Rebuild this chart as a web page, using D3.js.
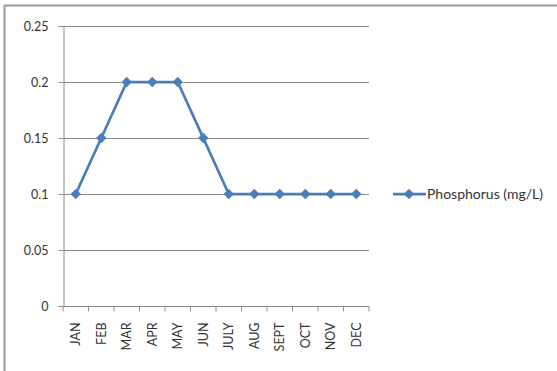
<!DOCTYPE html>
<html>
<head>
<meta charset="utf-8">
<script src="https://cdn.jsdelivr.net/npm/d3@7"></script>
<style>
  html, body { margin: 0; padding: 0; background: #fff; }
  svg { display: block; }
  text { font-family: Lato, "Liberation Sans", Arial, sans-serif; fill: #333; }
</style>
</head>
<body>
<svg id="chart" width="557" height="371"></svg>
<script>
// Monthly phosphorus concentration
const months = ["JAN", "FEB", "MAR", "APR", "MAY", "JUN", "JULY", "AUG", "SEPT", "OCT", "NOV", "DEC"];
const phosphorus = [0.1, 0.15, 0.2, 0.2, 0.2, 0.15, 0.1, 0.1, 0.1, 0.1, 0.1, 0.1];
const yTicks = [0, 0.05, 0.1, 0.15, 0.2, 0.25];
const yTickLabels = ["0", "0.05", "0.1", "0.15", "0.2", "0.25"];
const seriesName = "Phosphorus (mg/L)";

const svg = d3.select("#chart");
const lineColor = "#4a7ebb";
const axisColor = "#8c8c8c";
const fontSize = 12.5;

// Chart frame (top and left edges)
svg.append("path")
  .attr("d", "M4.5,371 V5.5 H557")
  .attr("fill", "none")
  .attr("stroke", "#9a9a9a")
  .attr("stroke-width", 2);

const plot = { left: 63, right: 369, top: 26, bottom: 306 };

const x = d3.scaleBand().domain(months).range([plot.left, plot.right]);
const y = d3.scaleLinear().domain([0, 0.25]).range([plot.bottom, plot.top]);

// Horizontal gridlines
svg.append("g")
  .selectAll("line")
  .data(yTicks.slice(1))
  .join("line")
  .attr("x1", plot.left).attr("x2", plot.right)
  .attr("y1", d => Math.round(y(d)) + 0.5).attr("y2", d => Math.round(y(d)) + 0.5)
  .attr("stroke", axisColor).attr("stroke-width", 1);

// Y axis
const yAxis = svg.append("g")
  .attr("transform", `translate(${plot.left + 0.5},0)`)
  .call(d3.axisLeft(y).tickValues(yTicks).tickFormat((d, i) => yTickLabels[i]).tickSize(5).tickPadding(10));
yAxis.select(".domain").attr("stroke", axisColor);
yAxis.selectAll(".tick line").attr("stroke", axisColor);
yAxis.selectAll("text").attr("font-size", fontSize).attr("fill", "#333");

// X axis
const xAxis = svg.append("g")
  .attr("transform", `translate(0,${plot.bottom + 0.5})`)
  .call(d3.axisBottom(x).tickSize(0).tickPadding(0));
xAxis.select(".domain").attr("stroke", axisColor).attr("d", `M${plot.left},0H${plot.right}`);
// tick marks between categories
xAxis.selectAll(".sep")
  .data(d3.range(months.length + 1))
  .join("line")
  .attr("class", "sep")
  .attr("x1", i => plot.left + i * x.step()).attr("x2", i => plot.left + i * x.step())
  .attr("y1", 0).attr("y2", 5)
  .attr("stroke", axisColor);
xAxis.selectAll(".tick text")
  .attr("font-size", fontSize)
  .attr("fill", "#333")
  .attr("text-anchor", "end")
  .attr("dy", "0.35em")
  .attr("transform", "translate(0,16) rotate(-90)");

// Series line
const cx = (d, i) => x(months[i]) + x.bandwidth() / 2;
const line = d3.line().x((d, i) => cx(d, i)).y(d => y(d));
svg.append("path")
  .datum(phosphorus)
  .attr("d", line)
  .attr("fill", "none")
  .attr("stroke", lineColor)
  .attr("stroke-width", 2.75)
  .attr("stroke-linejoin", "round");

// Diamond markers: a square turned 45 degrees
const marker = d3.symbol().type(d3.symbolSquare).size(40);
svg.append("g")
  .selectAll("path")
  .data(phosphorus)
  .join("path")
  .attr("d", marker)
  .attr("transform", (d, i) => `translate(${cx(d, i)},${y(d)}) rotate(45)`)
  .attr("fill", lineColor)
  .attr("stroke", lineColor)
  .attr("stroke-width", 1);

// Legend
const legend = svg.append("g").attr("transform", `translate(393,${Math.round(y(0.1))})`);
legend.append("line")
  .attr("x1", 0).attr("x2", 33).attr("y1", 0).attr("y2", 0)
  .attr("stroke", lineColor).attr("stroke-width", 2.75);
legend.append("path")
  .attr("d", marker)
  .attr("transform", "translate(16,0) rotate(45)")
  .attr("fill", lineColor).attr("stroke", lineColor);
legend.append("text")
  .attr("x", 34).attr("y", 0).attr("dy", "0.35em")
  .attr("font-size", 14)
  .attr("fill", "#333")
  .text(seriesName);
</script>
</body>
</html>
